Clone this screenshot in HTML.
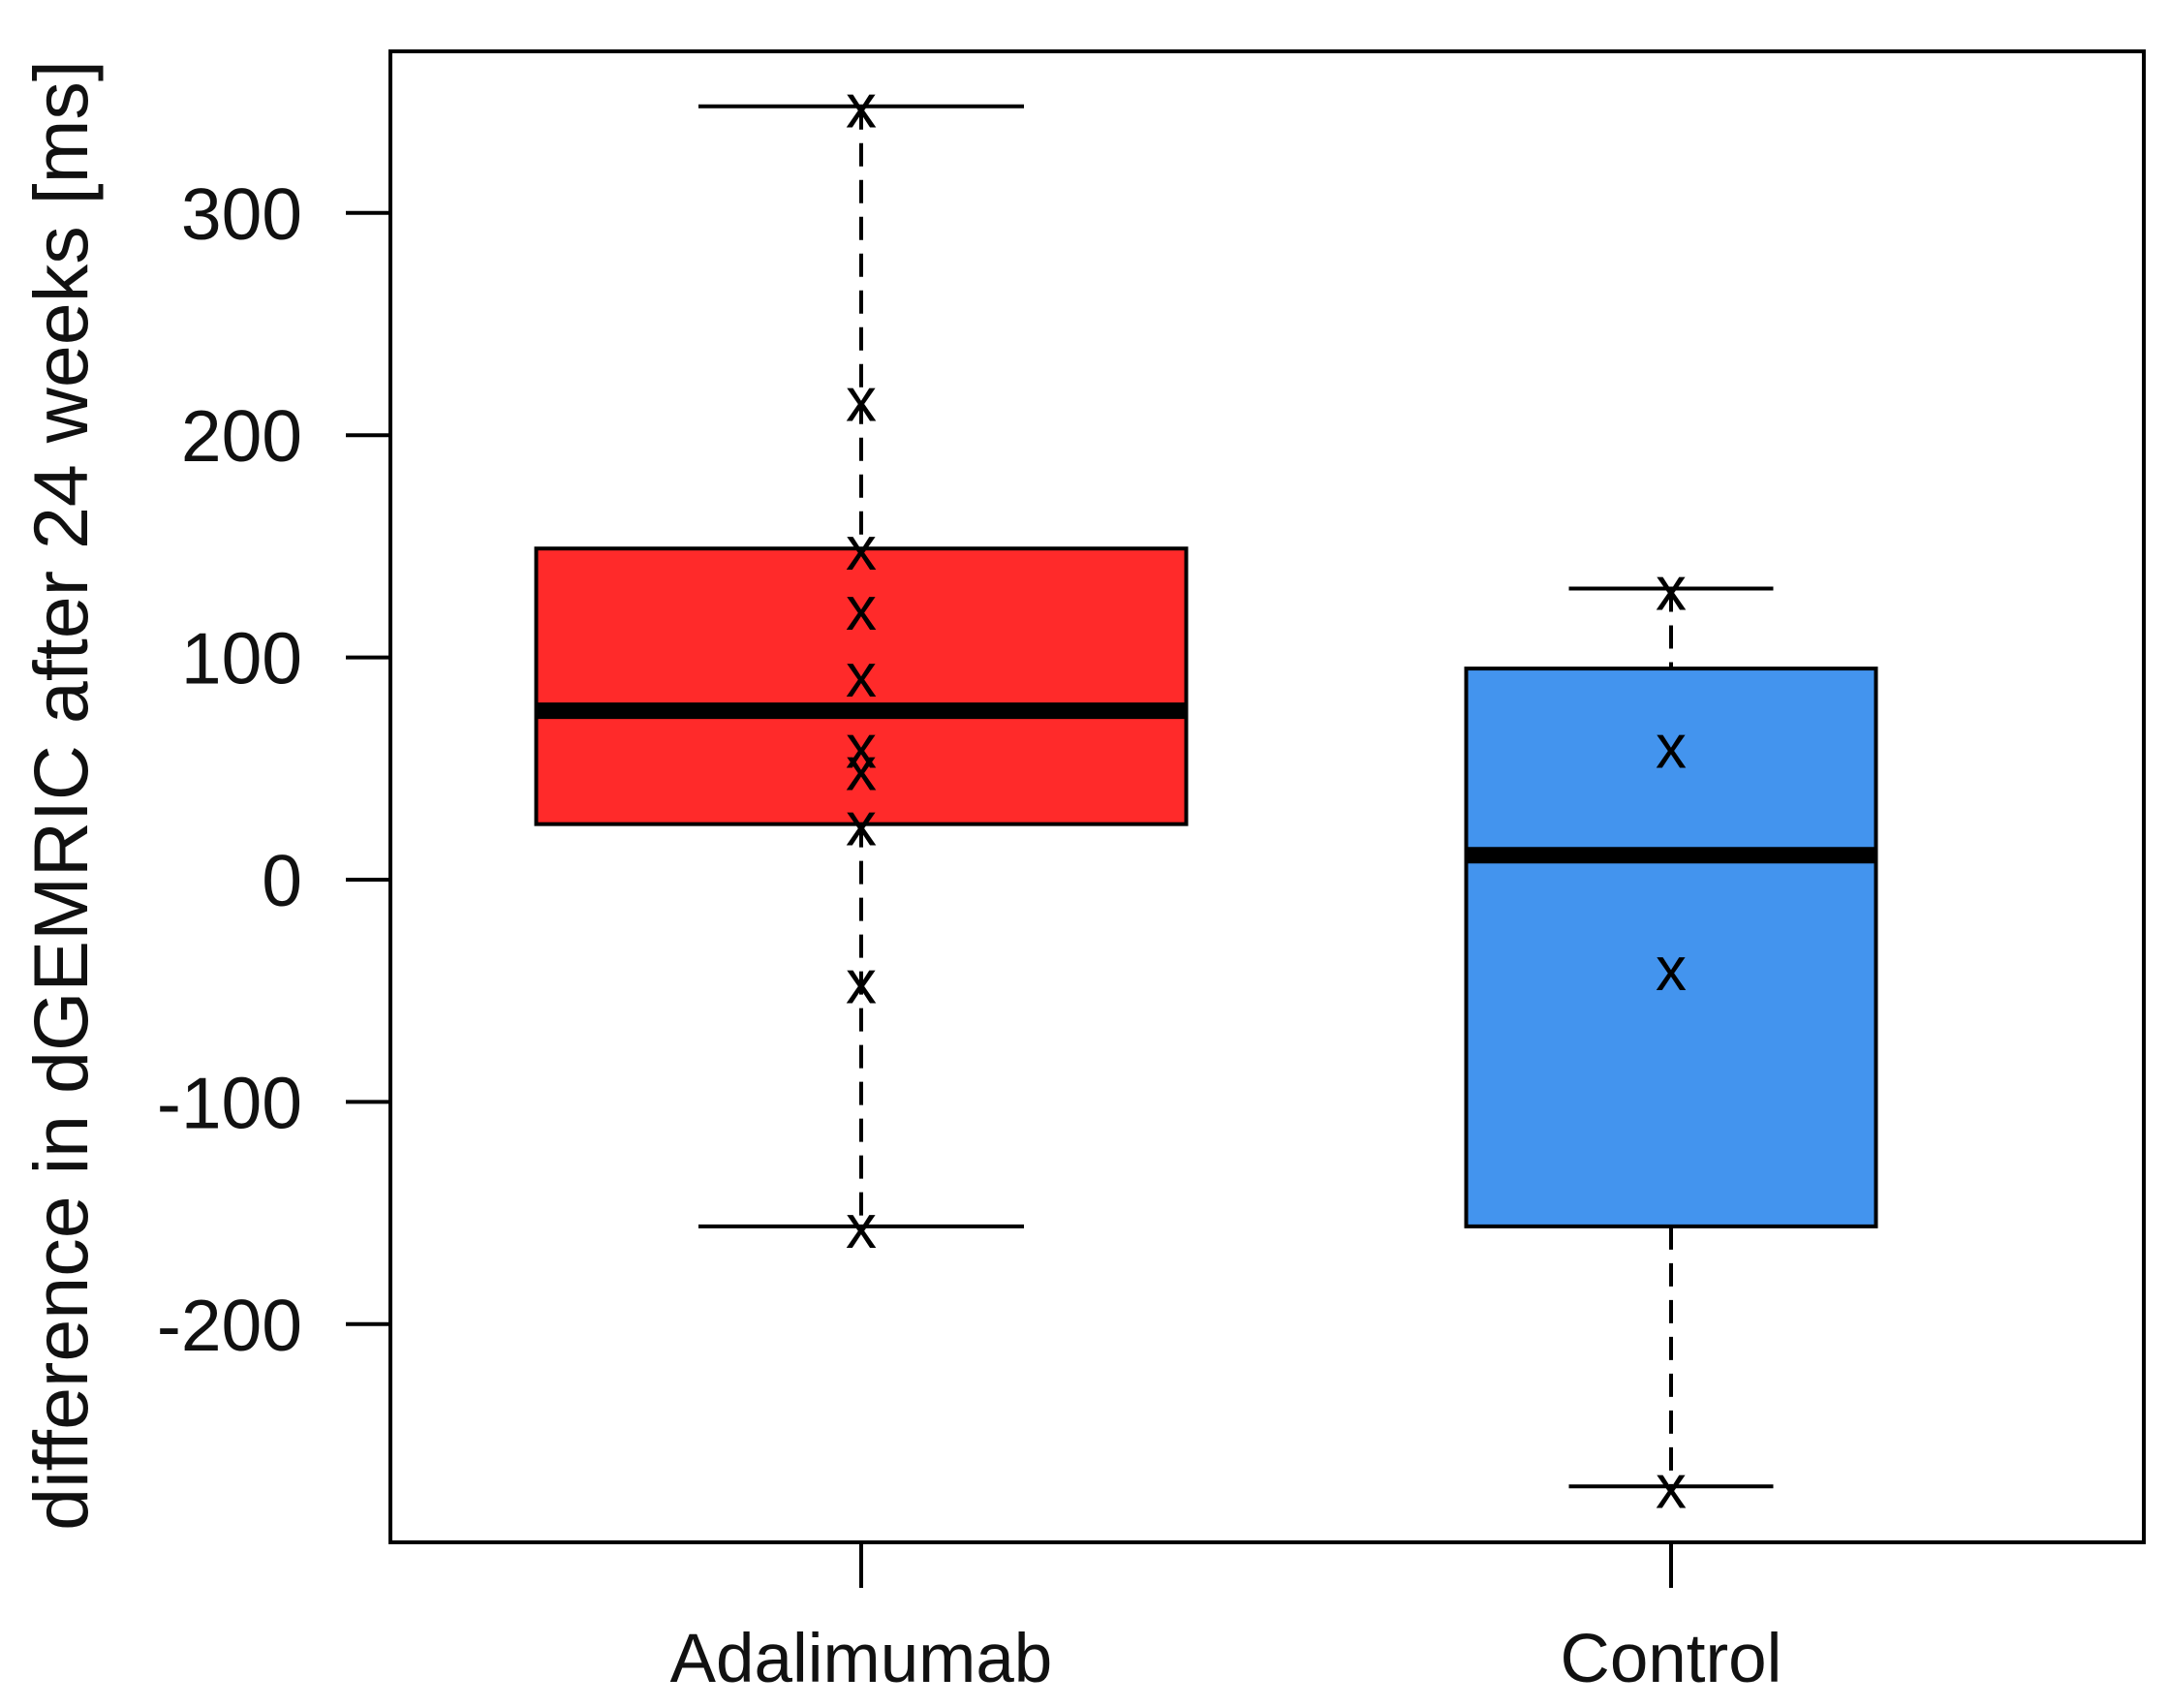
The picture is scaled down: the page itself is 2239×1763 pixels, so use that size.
<!DOCTYPE html>
<html><head><meta charset="utf-8"><style>body{margin:0;background:#fff}svg{display:block}</style></head>
<body>
<svg id="chart" width="2239" height="1763" xmlns="http://www.w3.org/2000/svg" font-family="Liberation Sans, sans-serif"></svg>
<script>
const groups = ["Adalimumab","Control"];
const q1 = [25, -156];
const q3 = [149, 95];
const medians = [76, 11];
const whiskerLow = [-156, -273];
const whiskerHigh = [348, 131];
const pointsA = [348, 216, 149, 122, 92, 60, 50, 25, -46, -156];
const pointsC = [131, 60, -40, -273];
const yTicks = [-200, -100, 0, 100, 200, 300];
const colors = ["#ff2a2a", "#4394ee"];

const NS = "http://www.w3.org/2000/svg";
const svg = document.getElementById("chart");
const L=403,R=2213,T=53,B=1592;
const y = v => 908 - v*2.294;
const xC = [889, 1725];
const boxW = [671, 423];
const capW = [336, 211];
function el(t,a,p){const e=document.createElementNS(NS,t);for(const k in a)e.setAttribute(k,a[k]);(p||svg).appendChild(e);return e;}

const frame = el("rect",{x:L,y:T,width:R-L,height:B-T,fill:"none",stroke:"#000","stroke-width":4});



yTicks.forEach(v=>{
  const t = el("line",{x1:357,x2:L,y1:y(v),y2:y(v),stroke:"#000","stroke-width":4});
  
  
  const lb = el("text",{x:312,y:y(v)+27,"text-anchor":"end","font-size":75,fill:"#111"});
  lb.textContent = v;
  
  
});

const yt = el("text",{x:0,y:0,"text-anchor":"middle","font-size":79,fill:"#111",transform:"translate(90,821) rotate(-90)"});
yt.textContent = "difference in dGEMRIC after 24 weeks [ms]";



const allPts = [pointsA, pointsC];
groups.forEach((g,i)=>{
  const cx = xC[i];
  const gEl = el("g",{});
  
  
  el("line",{x1:cx,x2:cx,y1:y(whiskerHigh[i]),y2:y(q3[i]),stroke:"#000","stroke-width":4,"stroke-dasharray":"24 14"},gEl);
  el("line",{x1:cx,x2:cx,y1:y(q1[i]),y2:y(whiskerLow[i]),stroke:"#000","stroke-width":4,"stroke-dasharray":"24 14"},gEl);
  el("line",{x1:cx-capW[i]/2,x2:cx+capW[i]/2,y1:y(whiskerHigh[i]),y2:y(whiskerHigh[i]),stroke:"#000","stroke-width":4},gEl);
  el("line",{x1:cx-capW[i]/2,x2:cx+capW[i]/2,y1:y(whiskerLow[i]),y2:y(whiskerLow[i]),stroke:"#000","stroke-width":4},gEl);
  el("rect",{x:cx-boxW[i]/2,y:y(q3[i]),width:boxW[i],height:y(q1[i])-y(q3[i]),fill:colors[i],stroke:"#000","stroke-width":4},gEl);
  el("line",{x1:cx-boxW[i]/2,x2:cx+boxW[i]/2,y1:y(medians[i]),y2:y(medians[i]),stroke:"#000","stroke-width":17},gEl);
  allPts[i].forEach(v=>{
    const p = el("text",{x:cx,y:y(v)+22,"text-anchor":"middle","font-size":64,fill:"#000"});
    p.textContent = "x";
    
    
  });
  const tk = el("line",{x1:cx,x2:cx,y1:B,y2:1639,stroke:"#000","stroke-width":4});
  
  
  const lb = el("text",{x:cx,y:1736,"text-anchor":"middle","font-size":71,fill:"#111"});
  lb.textContent = g;
  
  
});
</script>
</body></html>
